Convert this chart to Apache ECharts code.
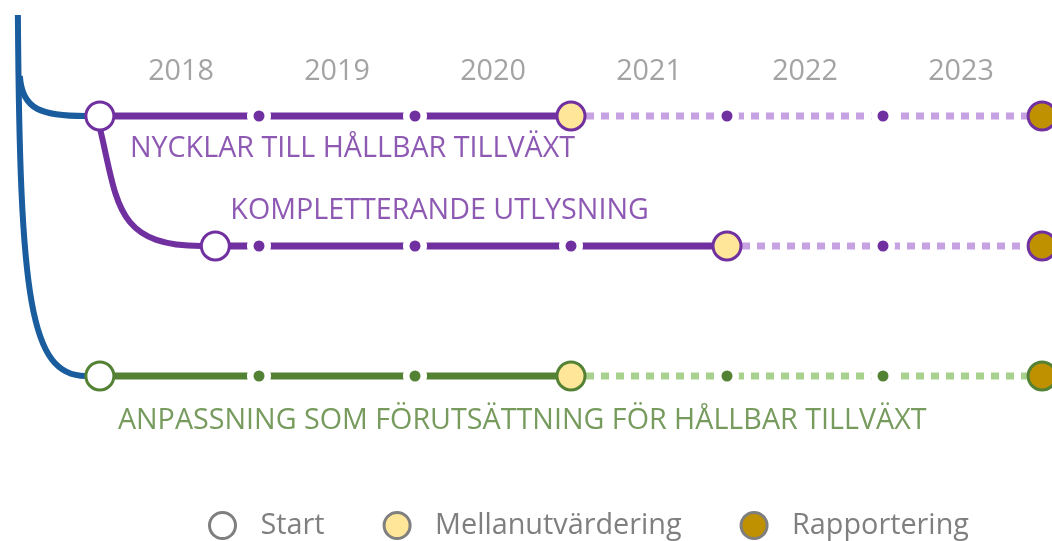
<!DOCTYPE html>
<html><head><meta charset="utf-8">
<script src="https://cdn.jsdelivr.net/npm/echarts@6/dist/echarts.min.js"></script>
<style>html,body{margin:0;padding:0;background:#fff}#c{width:1052px;height:541px}</style>
</head><body><div id="c"></div>
<script>
// ---- data ----
const years = ['2018', '2019', '2020', '2021', '2022', '2023'];
const programs = ['NYCKLAR TILL HÅLLBAR TILLVÄXT', 'KOMPLETTERANDE UTLYSNING', 'ANPASSNING SOM FÖRUTSÄTTNING FÖR HÅLLBAR TILLVÄXT'];
const lanes = [1, 2, 3];
const startYear = [2017.98, 2018.72, 2017.98];
const midYear = [2021, 2022, 2021];
const endYear = [2024.02, 2024.02, 2024.02];
const checkpoints = [[2019, 2020, 2022, 2023], [2019, 2020, 2021, 2023], [2019, 2020, 2022, 2023]];
const milestoneNames = ['Start', 'Mellanutvärdering', 'Rapportering'];

// ---- styles ----
const dark = ['#7030A0', '#7030A0', '#548235'];
const light = ['#C6A2E3', '#C6A2E3', '#A9D18E'];
const milestoneFill = ['#FFFFFF', '#FFE699', '#BF9000'];
const labelOffsets = [[30, 33], [15, -35], [18, 45]];
const FONT = 'Open Sans';

const chart = echarts.init(document.getElementById('c'), null, {renderer: 'canvas'});
const UNIT = 130;
const xMin = 2018 - 103 / 156, xMax = xMin + 1052 / 156;
const yMin = 1 - 116 / UNIT, yMax = yMin + 541 / UNIT;

const series = [];
// connectors
series.push({
  type: 'custom', coordinateSystem: 'cartesian2d', silent: true, z: 1,
  data: [[startYear[0], lanes[0]]],
  renderItem: function (params, api) {
    const a = api.coord([startYear[0], lanes[0]]);
    const b = api.coord([startYear[1], lanes[1]]);
    const c = api.coord([startYear[2], lanes[2]]);
    const r = 14, tx = a[0] - 82, top = 15;
    const blue = {stroke: '#1A5D9E', lineWidth: 6, fill: null};
    return {type: 'group', children: [
      {type: 'bezierCurve', shape: {x1: tx, y1: top, cpx1: tx + 2, cpy1: c[1] - 77, cpx2: tx + 12, cpy2: c[1], x2: c[0] - r, y2: c[1]}, style: blue},
      {type: 'bezierCurve', shape: {x1: tx + 2, y1: a[1] - 40, cpx1: tx + 4, cpy1: a[1] - 6, cpx2: tx + 24, cpy2: a[1], x2: a[0] - r, y2: a[1]}, style: blue},
      {type: 'bezierCurve', shape: {x1: a[0], y1: a[1] + 12, cpx1: a[0] + 18, cpy1: b[1] - 43, cpx2: a[0] + 15, cpy2: b[1], x2: b[0] - r, y2: b[1]}, style: {stroke: dark[0], lineWidth: 6, fill: null}}
    ]};
  }
});
programs.forEach(function (p, i) {
  series.push({type: 'line', data: [[startYear[i], lanes[i]], [midYear[i], lanes[i]]], symbol: 'none', silent: true, z: 2,
    lineStyle: {color: dark[i], width: 7}});
  series.push({type: 'line', data: [[midYear[i], lanes[i]], [endYear[i], lanes[i]]], symbol: 'none', silent: true, z: 2,
    lineStyle: {color: light[i], width: 7, type: [8, 7], cap: 'butt'}});
  series.push({type: 'scatter', data: checkpoints[i].map(function (y) { return [y, lanes[i]]; }), symbolSize: 24, silent: true, z: 3,
    itemStyle: {color: '#FFFFFF', opacity: 1}});
  series.push({type: 'scatter', data: checkpoints[i].map(function (y) { return [y, lanes[i]]; }), symbolSize: 11, silent: true, z: 4,
    itemStyle: {color: dark[i], opacity: 1}});
});
const milestoneYears = [startYear, midYear, endYear];
milestoneNames.forEach(function (name, k) {
  series.push({
    type: 'scatter', name: name, symbolSize: 28, z: 5, silent: true,
    itemStyle: {color: milestoneFill[k], borderColor: '#7F7F7F', borderWidth: 3, opacity: 1},
    data: programs.map(function (p, i) {
      return {value: [milestoneYears[k][i], lanes[i]], itemStyle: {color: milestoneFill[k], borderColor: dark[i], borderWidth: 3}};
    })
  });
});
// program labels
series.push({
  type: 'scatter', symbolSize: 0, silent: true, z: 6,
  data: programs.map(function (p, i) {
    return {value: [startYear[i], lanes[i]], label: {show: true, formatter: p, position: 'inside', align: 'left', verticalAlign: 'middle',
      offset: labelOffsets[i], color: dark[i], fontFamily: FONT, fontSize: 28.7}};
  })
});
// year labels
series.push({
  type: 'scatter', symbolSize: 0, silent: true, z: 6,
  data: years.map(function (y) { return {value: [Number(y) + 0.5, yMin + 72 / UNIT], label: {show: true, formatter: y}}; }),
  label: {position: 'inside', color: '#8C8C8C', fontFamily: FONT, fontSize: 28.7}
});

chart.setOption({
  animation: false,
  grid: {left: 0, right: 0, top: 0, bottom: 0, containLabel: false},
  xAxis: {type: 'value', min: xMin, max: xMax, show: false},
  yAxis: {type: 'value', min: yMin, max: yMax, inverse: true, show: false},
  legend: {
    left: 208, top: 511, padding: 0, itemWidth: 26, itemHeight: 26, itemGap: 58, icon: 'circle',
    data: milestoneNames.map(function (n, k) { return {name: n, itemStyle: {color: milestoneFill[k], borderColor: '#7F7F7F', borderWidth: 3}}; }),
    textStyle: {color: '#7F7F7F', fontFamily: FONT, fontSize: 28.8, padding: [0, 0, 0, 20]}
  },
  series: series
});
</script></body></html>
